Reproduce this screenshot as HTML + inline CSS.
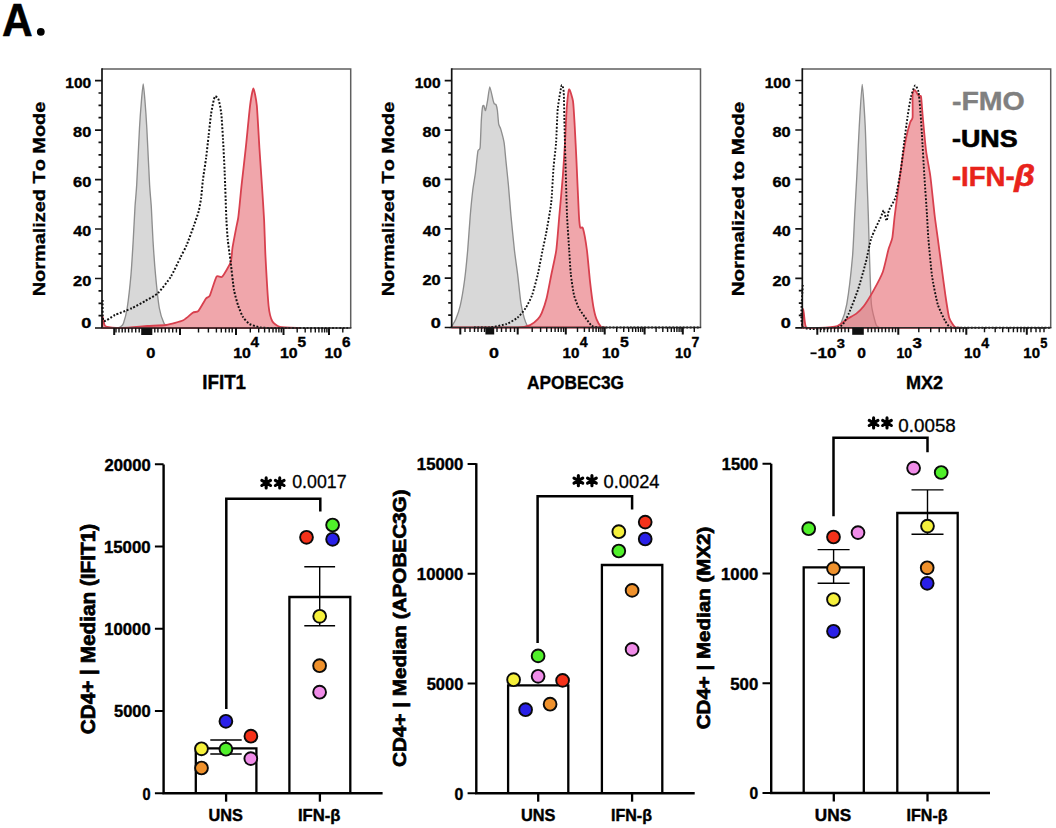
<!DOCTYPE html>
<html><head><meta charset="utf-8"><title>Figure A</title>
<style>
html,body{margin:0;padding:0;background:#fff;}
body{width:1056px;height:828px;overflow:hidden;}
svg{display:block;font-family:"Liberation Sans",sans-serif;font-kerning:none;}
text{font-kerning:none;}
</style></head><body>
<svg width="1056" height="828" viewBox="0 0 1056 828">
<rect width="1056" height="828" fill="#fff"/>
<text transform="translate(1.94,35.50) scale(0.9076,1)" font-size="46.80" font-weight="bold" font-style="normal" fill="#000" stroke="#000" stroke-width="0.6" stroke-linejoin="round">A</text>
<circle cx="40.8" cy="31.8" r="3.9"/>
<g>
<path d="M117.00,328.00 C117.35,327.88 119.86,327.26 120.50,326.80 C121.14,326.34 122.73,325.28 123.40,323.40 C124.07,321.52 126.44,312.89 127.20,308.00 C127.96,303.11 130.40,281.23 131.00,274.50 C131.60,267.77 132.80,247.46 133.20,240.70 C133.60,233.94 134.65,212.48 135.00,206.90 C135.35,201.32 136.25,192.79 136.70,184.90 C137.15,177.01 139.02,136.49 139.50,128.00 C139.98,119.51 141.13,104.42 141.50,100.00 C141.87,95.58 142.86,83.80 143.20,83.80 C143.54,83.80 144.54,95.58 144.90,100.00 C145.26,104.42 146.33,119.51 146.80,128.00 C147.27,136.49 149.15,177.01 149.60,184.90 C150.05,192.79 150.96,201.32 151.30,206.90 C151.64,212.48 152.58,233.94 153.00,240.70 C153.42,247.46 154.87,267.77 155.50,274.50 C156.13,281.23 158.45,303.11 159.30,308.00 C160.15,312.89 163.13,321.47 164.00,323.40 C164.87,325.33 167.20,326.84 168.00,327.30 C168.80,327.76 171.60,327.93 172.00,328.00 Z" fill="#d8d8d8" stroke="#8e8e8e" stroke-width="1.35"/>
<path d="M102.30,328.00 C102.33,326.90 102.43,317.50 102.60,317.00 C102.77,316.50 103.66,322.05 104.00,323.00 C104.34,323.95 104.13,326.02 106.00,326.50 C107.87,326.98 118.57,327.85 122.70,327.80 C126.83,327.75 142.94,326.28 147.30,326.00 C151.66,325.72 162.70,325.57 166.30,325.00 C169.90,324.43 180.65,321.53 183.30,320.30 C185.95,319.07 191.28,313.65 192.80,312.70 C194.32,311.75 197.18,312.22 198.50,310.80 C199.82,309.38 204.87,300.02 206.00,298.50 C207.13,296.98 208.75,297.78 209.80,295.60 C210.85,293.42 215.26,278.59 216.50,276.70 C217.74,274.81 220.78,278.16 222.20,276.70 C223.62,275.24 229.67,265.01 230.70,262.10 C231.73,259.19 231.96,250.98 232.50,247.60 C233.04,244.22 235.53,231.26 236.10,228.30 C236.67,225.34 237.84,220.41 238.20,218.00 C238.56,215.59 239.36,207.51 239.70,204.20 C240.04,200.89 240.99,190.55 241.60,184.90 C242.21,179.25 244.95,155.65 245.80,147.70 C246.65,139.75 249.34,111.32 250.10,105.40 C250.86,99.48 252.73,88.50 253.40,88.50 C254.07,88.50 256.20,99.48 256.80,105.40 C257.40,111.32 258.89,139.75 259.40,147.70 C259.91,155.65 261.43,177.67 261.90,184.90 C262.37,192.13 263.74,212.81 264.10,220.00 C264.46,227.19 265.05,248.20 265.50,256.80 C265.95,265.40 267.92,299.56 268.60,306.00 C269.28,312.44 271.17,319.11 272.30,321.20 C273.43,323.29 277.13,326.22 279.90,326.90 C282.67,327.58 297.99,327.89 300.00,328.00 Z" fill="#f0a6ab" stroke="#d8404e" stroke-width="1.8" stroke-linejoin="round"/>
<path d="M102.60,300.00 C102.69,302.10 102.26,319.50 103.50,321.00 C104.74,322.50 112.16,316.28 115.00,315.00 C117.84,313.72 128.88,309.60 131.90,308.20 C134.92,306.80 142.58,302.52 145.20,301.00 C147.82,299.48 155.53,295.44 158.10,293.00 C160.67,290.56 168.66,280.17 170.90,276.60 C173.14,273.03 178.93,260.44 180.50,257.30 C182.07,254.16 185.27,248.34 186.60,245.20 C187.93,242.06 192.60,229.28 193.80,225.90 C195.00,222.52 197.87,214.18 198.60,211.40 C199.33,208.62 200.67,201.24 201.10,198.10 C201.53,194.96 202.40,184.03 202.90,180.00 C203.40,175.97 205.53,162.22 206.10,157.80 C206.67,153.38 208.10,140.20 208.60,135.80 C209.10,131.40 210.59,117.35 211.10,113.80 C211.61,110.25 213.27,102.07 213.70,100.30 C214.13,98.53 214.89,96.10 215.40,96.10 C215.91,96.10 218.21,98.53 218.80,100.30 C219.39,102.07 220.88,109.91 221.30,113.80 C221.72,117.69 222.66,133.28 223.00,139.20 C223.34,145.12 224.36,164.92 224.70,173.00 C225.04,181.08 226.09,213.30 226.40,220.00 C226.71,226.70 227.37,235.75 227.80,240.00 C228.23,244.25 230.08,257.50 230.70,262.50 C231.32,267.50 233.24,285.65 234.00,290.00 C234.76,294.35 237.40,303.30 238.30,306.00 C239.20,308.70 241.87,315.20 243.00,317.00 C244.13,318.80 247.80,322.94 249.60,324.00 C251.40,325.06 257.96,327.20 261.00,327.60 C264.04,328.00 271.10,327.96 280.00,328.00 C288.90,328.04 343.00,328.00 350.00,328.00" fill="none" stroke="#111" stroke-width="2" stroke-dasharray="1.9 1.7"/>
<path d="M102.0,68.9 H350.7 V328.0" fill="none" stroke="#5f5f5f" stroke-width="1.5"/>
<path d="M102.0,68.2 V328.0" fill="none" stroke="#111" stroke-width="1.7"/>
<path d="M102.0,328.0 H351.4" fill="none" stroke="#2a2a2a" stroke-width="1.5"/>
<path d="M95.0,328.0 H102.0 M98.5,315.6 H102.0 M98.5,303.3 H102.0 M98.5,290.9 H102.0 M95.0,278.5 H102.0 M98.5,266.1 H102.0 M98.5,253.8 H102.0 M98.5,241.4 H102.0 M95.0,229.0 H102.0 M98.5,216.7 H102.0 M98.5,204.3 H102.0 M98.5,191.9 H102.0 M95.0,179.6 H102.0 M98.5,167.2 H102.0 M98.5,154.8 H102.0 M98.5,142.4 H102.0 M95.0,130.1 H102.0 M98.5,117.7 H102.0 M98.5,105.3 H102.0 M98.5,93.0 H102.0 M95.0,80.6 H102.0" stroke="#111" stroke-width="1.7"/>
<path d="M114.2,328.0 V335.0 M180.0,328.0 V335.0 M236.0,328.0 V335.0 M283.5,328.0 V335.0 M329.0,328.0 V335.0" stroke="#111" stroke-width="2"/>
<path d="M116.0,328.0 V332.5 M119.0,328.0 V332.5 M122.2,328.0 V332.5 M125.2,328.0 V332.5 M128.6,328.0 V332.5 M132.0,328.0 V332.5 M135.7,328.0 V332.5 M139.2,328.0 V332.5 M154.8,328.0 V332.5 M157.9,328.0 V332.5 M161.6,328.0 V332.5 M165.3,328.0 V332.5 M169.0,328.0 V332.5 M172.7,328.0 V332.5 M176.4,328.0 V332.5 M198.5,328.0 V332.5 M208.4,328.0 V332.5 M216.4,328.0 V332.5 M221.3,328.0 V332.5 M225.6,328.0 V332.5 M229.2,328.0 V332.5 M232.2,328.0 V332.5 M250.3,328.0 V332.5 M258.7,328.0 V332.5 M264.6,328.0 V332.5 M269.2,328.0 V332.5 M273.0,328.0 V332.5 M276.1,328.0 V332.5 M278.9,328.0 V332.5 M281.3,328.0 V332.5 M297.2,328.0 V332.5 M305.2,328.0 V332.5 M310.9,328.0 V332.5 M315.3,328.0 V332.5 M318.9,328.0 V332.5 M322.0,328.0 V332.5 M324.6,328.0 V332.5 M326.9,328.0 V332.5 M342.8,328.0 V332.5" stroke="#111" stroke-width="1.4"/>
<rect x="141.2" y="328.0" width="11.1" height="7" fill="#111"/>
</g>
<text stroke="#000" stroke-width="0.35" transform="translate(81.28,328.20) scale(1.2379,1)" font-size="14.61" font-weight="bold" font-style="normal" fill="#000" >0</text>
<text stroke="#000" stroke-width="0.35" transform="translate(73.03,285.72) scale(1.1226,1)" font-size="14.61" font-weight="bold" font-style="normal" fill="#000" >20</text>
<text stroke="#000" stroke-width="0.35" transform="translate(73.36,236.24) scale(1.1019,1)" font-size="14.61" font-weight="bold" font-style="normal" fill="#000" >40</text>
<text stroke="#000" stroke-width="0.35" transform="translate(73.00,186.76) scale(1.1247,1)" font-size="14.61" font-weight="bold" font-style="normal" fill="#000" >60</text>
<text stroke="#000" stroke-width="0.35" transform="translate(73.08,137.28) scale(1.1195,1)" font-size="14.61" font-weight="bold" font-style="normal" fill="#000" >80</text>
<text stroke="#000" stroke-width="0.35" transform="translate(65.32,87.80) scale(1.0633,1)" font-size="14.61" font-weight="bold" font-style="normal" fill="#000" >100</text>
<text stroke="#000" stroke-width="0.35" transform="translate(45.23,296.33) rotate(-90) scale(1.1699,1)" font-size="17.02" font-weight="bold" fill="#000" >Normalized To Mode</text>
<text stroke="#000" stroke-width="0.35" transform="translate(146.15,357.90) scale(1.1806,1)" font-size="13.89" font-weight="bold" font-style="normal" fill="#000" >0</text>
<text stroke="#000" stroke-width="0.35" transform="translate(233.20,357.90) scale(1.1423,1)" font-size="13.89" font-weight="bold" font-style="normal" fill="#000" >10</text>
<text stroke="#000" stroke-width="0.35" transform="translate(280.00,357.90) scale(1.1423,1)" font-size="13.89" font-weight="bold" font-style="normal" fill="#000" >10</text>
<text stroke="#000" stroke-width="0.35" transform="translate(324.40,357.90) scale(1.1423,1)" font-size="13.89" font-weight="bold" font-style="normal" fill="#000" >10</text>
<text stroke="#000" stroke-width="0.35" transform="translate(250.47,347.40) scale(1.0532,1)" font-size="14.54" font-weight="bold" font-style="normal" fill="#000" >4</text>
<text stroke="#000" stroke-width="0.35" transform="translate(297.52,347.40) scale(1.0647,1)" font-size="14.54" font-weight="bold" font-style="normal" fill="#000" >5</text>
<text stroke="#000" stroke-width="0.35" transform="translate(342.04,347.40) scale(1.0689,1)" font-size="14.32" font-weight="bold" font-style="normal" fill="#000" >6</text>
<text stroke="#000" stroke-width="0.35" transform="translate(202.24,389.00) scale(0.9728,1)" font-size="19.33" font-weight="bold" font-style="normal" fill="#000" >IFIT1</text>
<path d="M450.50,327.50 C450.68,327.30 451.76,326.34 452.30,325.50 C452.84,324.66 455.10,321.11 455.90,319.10 C456.70,317.09 459.43,309.31 460.30,305.40 C461.17,301.49 463.86,285.54 464.60,280.00 C465.34,274.46 467.13,256.50 467.70,250.00 C468.27,243.50 469.79,221.00 470.30,215.00 C470.81,209.00 472.29,194.19 472.80,190.00 C473.31,185.81 474.89,176.99 475.40,173.10 C475.91,169.21 477.43,153.64 477.90,151.10 C478.37,148.56 479.76,150.74 480.10,147.70 C480.44,144.66 481.06,124.76 481.30,120.70 C481.54,116.64 482.25,108.62 482.50,107.10 C482.75,105.58 483.50,105.16 483.80,105.50 C484.10,105.84 485.12,111.01 485.50,110.50 C485.88,109.99 487.17,102.77 487.60,100.40 C488.03,98.03 489.25,86.80 489.80,86.80 C490.35,86.80 492.65,98.70 493.10,100.40 C493.55,102.10 494.01,103.38 494.30,103.80 C494.59,104.22 495.69,103.93 496.00,104.60 C496.31,105.27 497.13,108.55 497.40,110.50 C497.67,112.45 498.37,122.24 498.70,124.10 C499.03,125.96 500.21,127.24 500.75,129.10 C501.29,130.96 503.60,139.65 504.10,142.70 C504.61,145.75 505.37,155.37 505.80,159.60 C506.23,163.83 507.89,179.46 508.40,185.00 C508.91,190.54 510.30,208.50 510.90,215.00 C511.50,221.50 513.73,244.08 514.40,250.00 C515.07,255.92 516.95,268.89 517.60,274.20 C518.25,279.51 520.25,298.76 520.90,303.10 C521.55,307.44 523.46,315.34 524.10,317.60 C524.74,319.86 526.76,324.71 527.30,325.70 C527.84,326.69 529.28,327.32 529.50,327.50 Z" fill="#d8d8d8" stroke="#8e8e8e" stroke-width="1.35"/>
<path d="M452.00,327.50 C458.56,327.50 509.75,327.76 517.60,327.50 C525.45,327.24 528.48,325.73 530.50,324.90 C532.52,324.07 536.67,320.41 537.80,319.20 C538.93,317.99 540.92,314.89 541.80,312.80 C542.68,310.71 545.64,302.16 546.60,298.30 C547.56,294.44 550.43,279.03 551.40,274.20 C552.37,269.37 555.50,255.92 556.30,250.00 C557.10,244.08 558.75,222.35 559.40,215.00 C560.05,207.65 562.24,183.74 562.80,176.50 C563.36,169.26 564.61,149.37 565.00,142.60 C565.39,135.83 566.29,114.12 566.70,108.80 C567.11,103.48 568.47,90.16 569.10,89.40 C569.73,88.64 572.44,97.57 573.00,101.20 C573.56,104.83 574.36,119.87 574.70,125.70 C575.04,131.53 575.98,150.57 576.40,159.50 C576.82,168.43 578.52,208.20 578.90,215.00 C579.28,221.80 579.79,226.16 580.20,227.50 C580.61,228.84 582.33,226.15 583.00,228.40 C583.67,230.65 586.19,244.62 586.90,250.00 C587.61,255.38 589.46,276.56 590.10,282.20 C590.74,287.84 592.66,302.70 593.30,306.40 C593.94,310.10 595.69,317.11 596.50,319.20 C597.31,321.29 600.57,326.47 601.40,327.30 C602.23,328.13 604.46,327.48 604.80,327.50 Z" fill="#f0a6ab" stroke="#d8404e" stroke-width="1.8" stroke-linejoin="round"/>
<path d="M474.00,327.50 C475.63,327.48 487.06,327.65 490.30,327.30 C493.54,326.95 503.67,324.97 506.40,324.00 C509.13,323.03 515.67,319.20 517.60,317.60 C519.53,316.00 524.25,310.25 525.70,308.00 C527.15,305.75 530.89,298.48 532.10,295.10 C533.31,291.72 536.75,278.71 537.80,274.20 C538.85,269.69 541.78,254.02 542.60,250.00 C543.42,245.98 545.14,238.70 546.00,234.00 C546.86,229.30 550.45,209.60 551.20,203.00 C551.95,196.40 553.01,174.04 553.50,168.00 C553.99,161.96 555.68,148.52 556.10,142.60 C556.52,136.68 557.20,114.51 557.75,108.80 C558.30,103.09 561.00,87.19 561.60,85.50 C562.20,83.81 563.41,87.88 563.70,91.90 C563.99,95.92 564.33,118.94 564.50,125.70 C564.67,132.46 565.15,150.57 565.40,159.50 C565.65,168.43 566.62,205.95 567.00,215.00 C567.38,224.05 568.82,244.08 569.20,250.00 C569.58,255.92 570.32,269.69 570.80,274.20 C571.28,278.71 573.20,291.72 574.00,295.10 C574.80,298.48 577.67,305.75 578.80,308.00 C579.93,310.25 584.01,315.83 585.30,317.60 C586.59,319.37 590.42,324.71 591.70,325.70 C592.98,326.69 596.27,327.32 598.10,327.50 C599.93,327.68 599.81,327.50 610.00,327.50 C620.19,327.50 691.00,327.50 700.00,327.50" fill="none" stroke="#111" stroke-width="1.9" stroke-dasharray="1.8 1.7"/>
<path d="M451.7,68.9 H700.5 V327.5" fill="none" stroke="#5f5f5f" stroke-width="1.5"/>
<path d="M451.7,68.2 V327.5" fill="none" stroke="#111" stroke-width="1.7"/>
<path d="M451.7,327.5 H701.2" fill="none" stroke="#2a2a2a" stroke-width="1.5"/>
<path d="M444.7,327.5 H451.7 M448.2,315.2 H451.7 M448.2,302.8 H451.7 M448.2,290.5 H451.7 M444.7,278.1 H451.7 M448.2,265.8 H451.7 M448.2,253.5 H451.7 M448.2,241.1 H451.7 M444.7,228.8 H451.7 M448.2,216.4 H451.7 M448.2,204.1 H451.7 M448.2,191.8 H451.7 M444.7,179.4 H451.7 M448.2,167.1 H451.7 M448.2,154.7 H451.7 M448.2,142.4 H451.7 M444.7,130.1 H451.7 M448.2,117.7 H451.7 M448.2,105.4 H451.7 M448.2,93.0 H451.7 M444.7,80.7 H451.7" stroke="#111" stroke-width="1.7"/>
<path d="M460.3,327.5 V334.5 M517.7,327.5 V334.5 M565.8,327.5 V334.5 M604.7,327.5 V334.5 M644.6,327.5 V334.5 M682.8,327.5 V334.5" stroke="#111" stroke-width="2"/>
<path d="M465.0,327.5 V332.0 M470.0,327.5 V332.0 M474.5,327.5 V332.0 M478.0,327.5 V332.0 M481.5,327.5 V332.0 M484.5,327.5 V332.0 M497.0,327.5 V332.0 M501.5,327.5 V332.0 M506.0,327.5 V332.0 M510.5,327.5 V332.0 M514.5,327.5 V332.0 M532.2,327.5 V332.0 M540.6,327.5 V332.0 M546.7,327.5 V332.0 M551.3,327.5 V332.0 M555.1,327.5 V332.0 M558.3,327.5 V332.0 M561.1,327.5 V332.0 M563.6,327.5 V332.0 M577.5,327.5 V332.0 M584.4,327.5 V332.0 M589.2,327.5 V332.0 M593.0,327.5 V332.0 M596.1,327.5 V332.0 M598.7,327.5 V332.0 M600.9,327.5 V332.0 M602.9,327.5 V332.0 M616.7,327.5 V332.0 M623.7,327.5 V332.0 M628.7,327.5 V332.0 M632.6,327.5 V332.0 M635.7,327.5 V332.0 M638.4,327.5 V332.0 M640.7,327.5 V332.0 M642.8,327.5 V332.0 M656.1,327.5 V332.0 M662.8,327.5 V332.0 M667.6,327.5 V332.0 M671.3,327.5 V332.0 M674.3,327.5 V332.0 M676.9,327.5 V332.0 M679.1,327.5 V332.0 M681.1,327.5 V332.0 M694.3,327.5 V332.0" stroke="#111" stroke-width="1.4"/>
<rect x="485.4" y="327.5" width="8.8" height="7" fill="#111"/>
<text stroke="#000" stroke-width="0.35" transform="translate(430.68,327.70) scale(1.2379,1)" font-size="14.61" font-weight="bold" font-style="normal" fill="#000" >0</text>
<text stroke="#000" stroke-width="0.35" transform="translate(422.43,285.34) scale(1.1226,1)" font-size="14.61" font-weight="bold" font-style="normal" fill="#000" >20</text>
<text stroke="#000" stroke-width="0.35" transform="translate(422.76,235.98) scale(1.1019,1)" font-size="14.61" font-weight="bold" font-style="normal" fill="#000" >40</text>
<text stroke="#000" stroke-width="0.35" transform="translate(422.40,186.62) scale(1.1247,1)" font-size="14.61" font-weight="bold" font-style="normal" fill="#000" >60</text>
<text stroke="#000" stroke-width="0.35" transform="translate(422.48,137.26) scale(1.1195,1)" font-size="14.61" font-weight="bold" font-style="normal" fill="#000" >80</text>
<text stroke="#000" stroke-width="0.35" transform="translate(414.72,87.90) scale(1.0633,1)" font-size="14.61" font-weight="bold" font-style="normal" fill="#000" >100</text>
<text stroke="#000" stroke-width="0.35" transform="translate(394.33,296.33) rotate(-90) scale(1.1699,1)" font-size="17.02" font-weight="bold" fill="#000" >Normalized To Mode</text>
<text stroke="#000" stroke-width="0.35" transform="translate(488.99,357.80) scale(1.2999,1)" font-size="13.75" font-weight="bold" font-style="normal" fill="#000" >0</text>
<text stroke="#000" stroke-width="0.35" transform="translate(562.54,357.80) scale(1.1037,1)" font-size="13.75" font-weight="bold" font-style="normal" fill="#000" >10</text>
<text stroke="#000" stroke-width="0.35" transform="translate(602.00,357.80) scale(1.1542,1)" font-size="13.75" font-weight="bold" font-style="normal" fill="#000" >10</text>
<text stroke="#000" stroke-width="0.35" transform="translate(675.08,357.80) scale(1.0604,1)" font-size="13.75" font-weight="bold" font-style="normal" fill="#000" >10</text>
<text stroke="#000" stroke-width="0.35" transform="translate(579.79,347.40) scale(0.9762,1)" font-size="14.54" font-weight="bold" font-style="normal" fill="#000" >4</text>
<text stroke="#000" stroke-width="0.35" transform="translate(619.91,347.40) scale(1.0924,1)" font-size="14.54" font-weight="bold" font-style="normal" fill="#000" >5</text>
<text stroke="#000" stroke-width="0.35" transform="translate(691.40,347.40) scale(0.9677,1)" font-size="14.54" font-weight="bold" font-style="normal" fill="#000" >7</text>
<text stroke="#000" stroke-width="0.35" transform="translate(527.07,389.00) scale(0.9006,1)" font-size="19.19" font-weight="bold" font-style="normal" fill="#000" >APOBEC3G</text>
<path d="M836.00,327.80 C836.51,327.32 840.02,325.36 841.10,323.00 C842.18,320.64 845.66,310.82 846.80,304.20 C847.94,297.58 851.71,265.72 852.50,256.80 C853.29,247.88 854.27,223.03 854.70,215.00 C855.13,206.97 856.34,185.42 856.80,176.50 C857.26,167.58 858.76,135.02 859.30,125.80 C859.84,116.58 861.61,84.30 862.20,84.30 C862.79,84.30 864.73,116.58 865.20,125.80 C865.67,135.02 866.59,167.58 866.90,176.50 C867.21,185.42 868.04,206.97 868.30,215.00 C868.56,223.03 869.19,247.88 869.50,256.80 C869.81,265.72 870.73,297.38 871.40,304.20 C872.07,311.02 875.34,322.64 876.20,325.00 C877.06,327.36 879.62,327.52 880.00,327.80 Z" fill="#d8d8d8" stroke="#8e8e8e" stroke-width="1.35"/>
<path d="M802.30,327.80 C802.36,325.97 802.75,310.98 802.90,309.50 C803.05,308.02 803.47,311.20 803.80,313.00 C804.13,314.80 804.74,326.02 806.20,327.50 C807.66,328.98 815.29,327.95 818.40,327.80 C821.51,327.65 834.46,326.85 837.30,326.00 C840.14,325.15 844.90,320.54 846.80,319.30 C848.70,318.06 854.59,314.93 856.30,313.60 C858.01,312.27 862.20,308.27 863.90,306.00 C865.60,303.73 871.41,294.30 873.30,290.90 C875.19,287.50 881.28,276.17 882.80,272.00 C884.32,267.83 887.55,252.61 888.50,249.20 C889.45,245.79 891.67,241.32 892.30,237.90 C892.93,234.48 893.95,221.81 894.80,215.00 C895.65,208.19 899.70,177.37 900.80,169.80 C901.90,162.23 904.87,144.04 905.80,139.30 C906.73,134.56 909.42,124.60 910.10,122.40 C910.78,120.20 912.35,120.18 912.60,117.30 C912.85,114.42 912.35,96.31 912.60,93.60 C912.85,90.89 914.59,90.11 915.10,90.20 C915.61,90.29 917.27,93.90 917.70,94.50 C918.13,95.10 919.06,95.95 919.40,96.20 C919.74,96.45 920.76,94.89 921.10,97.00 C921.44,99.11 922.30,111.89 922.80,117.30 C923.30,122.71 925.34,145.18 926.10,151.10 C926.86,157.02 929.55,170.11 930.40,176.50 C931.25,182.89 933.87,208.86 934.60,215.00 C935.33,221.14 937.01,232.77 937.70,237.90 C938.39,243.03 940.74,260.62 941.50,266.30 C942.26,271.98 944.54,289.59 945.30,294.70 C946.06,299.81 948.15,314.18 949.10,317.40 C950.05,320.62 953.66,325.86 954.80,326.90 C955.94,327.94 959.93,327.71 960.50,327.80 Z" fill="#e76c74" fill-opacity="0.615" stroke="#d8404e" stroke-width="1.8" stroke-linejoin="round"/>
<path d="M802.80,285.00 C802.82,289.20 799.36,322.81 803.00,327.00 C806.64,331.19 834.63,328.24 839.20,326.90 C843.77,325.56 846.80,317.39 848.70,313.60 C850.60,309.81 856.50,294.11 858.20,289.00 C859.91,283.89 864.43,267.61 865.75,262.50 C867.07,257.39 869.88,242.45 871.40,237.90 C872.91,233.35 879.66,219.75 880.90,217.00 C882.13,214.25 883.18,210.02 883.75,210.40 C884.32,210.78 886.09,220.80 886.60,220.80 C887.12,220.80 887.99,212.80 888.90,210.40 C889.81,208.00 894.51,200.86 895.70,196.80 C896.89,192.74 899.96,175.21 900.80,169.80 C901.64,164.39 903.43,147.95 904.10,142.70 C904.77,137.45 906.82,121.87 907.50,117.30 C908.18,112.73 910.14,100.18 910.90,97.00 C911.66,93.82 914.34,86.01 915.10,85.50 C915.86,84.99 917.99,89.57 918.50,91.90 C919.01,94.23 919.86,104.57 920.20,108.80 C920.54,113.03 921.48,127.43 921.90,134.20 C922.32,140.97 923.89,168.42 924.40,176.50 C924.91,184.58 926.61,208.86 927.00,215.00 C927.39,221.14 927.80,231.82 928.30,237.90 C928.80,243.98 931.06,269.17 932.00,275.80 C932.94,282.43 936.37,299.66 937.70,304.20 C939.03,308.74 943.97,318.89 945.30,321.20 C946.63,323.51 948.53,326.64 951.00,327.30 C953.47,327.96 960.10,327.75 970.00,327.80 C979.90,327.85 1042.00,327.80 1050.00,327.80" fill="none" stroke="#111" stroke-width="1.9" stroke-dasharray="1.8 1.7"/>
<path d="M802.3,68.9 H1050.7 V327.8" fill="none" stroke="#5f5f5f" stroke-width="1.5"/>
<path d="M802.3,68.2 V327.8" fill="none" stroke="#111" stroke-width="1.7"/>
<path d="M802.3,327.8 H1051.4" fill="none" stroke="#2a2a2a" stroke-width="1.5"/>
<path d="M795.3,327.8 H802.3 M798.8,315.4 H802.3 M798.8,303.1 H802.3 M798.8,290.7 H802.3 M795.3,278.3 H802.3 M798.8,266.0 H802.3 M798.8,253.6 H802.3 M798.8,241.2 H802.3 M795.3,228.9 H802.3 M798.8,216.5 H802.3 M798.8,204.1 H802.3 M798.8,191.8 H802.3 M795.3,179.4 H802.3 M798.8,167.1 H802.3 M798.8,154.7 H802.3 M798.8,142.3 H802.3 M795.3,130.0 H802.3 M798.8,117.6 H802.3 M798.8,105.2 H802.3 M798.8,92.9 H802.3 M795.3,80.5 H802.3" stroke="#111" stroke-width="1.7"/>
<path d="M817.3,327.8 V334.8 M898.3,327.8 V334.8 M966.3,327.8 V334.8 M1026.8,327.8 V334.8" stroke="#111" stroke-width="2"/>
<path d="M820.5,327.8 V332.3 M824.0,327.8 V332.3 M827.5,327.8 V332.3 M831.0,327.8 V332.3 M834.5,327.8 V332.3 M838.0,327.8 V332.3 M841.5,327.8 V332.3 M845.0,327.8 V332.3 M848.5,327.8 V332.3 M868.0,327.8 V332.3 M871.5,327.8 V332.3 M875.0,327.8 V332.3 M878.5,327.8 V332.3 M882.0,327.8 V332.3 M885.5,327.8 V332.3 M889.0,327.8 V332.3 M892.5,327.8 V332.3 M895.5,327.8 V332.3 M918.8,327.8 V332.3 M930.7,327.8 V332.3 M939.2,327.8 V332.3 M945.8,327.8 V332.3 M951.2,327.8 V332.3 M955.8,327.8 V332.3 M959.7,327.8 V332.3 M963.2,327.8 V332.3 M984.5,327.8 V332.3 M995.2,327.8 V332.3 M1002.7,327.8 V332.3 M1008.6,327.8 V332.3 M1013.4,327.8 V332.3 M1017.4,327.8 V332.3 M1020.9,327.8 V332.3 M1024.0,327.8 V332.3 M1031.0,327.8 V332.3 M1036.0,327.8 V332.3 M1040.0,327.8 V332.3 M1044.0,327.8 V332.3" stroke="#111" stroke-width="1.4"/>
<rect x="852.2" y="327.8" width="11.6" height="7" fill="#111"/>
<text stroke="#000" stroke-width="0.35" transform="translate(780.68,328.00) scale(1.2379,1)" font-size="14.61" font-weight="bold" font-style="normal" fill="#000" >0</text>
<text stroke="#000" stroke-width="0.35" transform="translate(772.43,285.54) scale(1.1226,1)" font-size="14.61" font-weight="bold" font-style="normal" fill="#000" >20</text>
<text stroke="#000" stroke-width="0.35" transform="translate(772.76,236.08) scale(1.1019,1)" font-size="14.61" font-weight="bold" font-style="normal" fill="#000" >40</text>
<text stroke="#000" stroke-width="0.35" transform="translate(772.40,186.62) scale(1.1247,1)" font-size="14.61" font-weight="bold" font-style="normal" fill="#000" >60</text>
<text stroke="#000" stroke-width="0.35" transform="translate(772.48,137.16) scale(1.1195,1)" font-size="14.61" font-weight="bold" font-style="normal" fill="#000" >80</text>
<text stroke="#000" stroke-width="0.35" transform="translate(764.72,87.70) scale(1.0633,1)" font-size="14.61" font-weight="bold" font-style="normal" fill="#000" >100</text>
<text stroke="#000" stroke-width="0.35" transform="translate(744.33,296.37) rotate(-90) scale(1.2045,1)" font-size="17.02" font-weight="bold" fill="#000" >Normalized to Mode</text>
<rect x="810.5" y="352.4" width="6.1" height="1.8"/>
<text stroke="#000" stroke-width="0.35" transform="translate(817.43,357.70) scale(1.2154,1)" font-size="14.04" font-weight="bold" font-style="normal" fill="#000" >10</text>
<text stroke="#000" stroke-width="0.35" transform="translate(836.66,348.00) scale(1.0909,1)" font-size="13.46" font-weight="bold" font-style="normal" fill="#000" >3</text>
<text stroke="#000" stroke-width="0.35" transform="translate(857.28,357.70) scale(1.1086,1)" font-size="14.04" font-weight="bold" font-style="normal" fill="#000" >0</text>
<text stroke="#000" stroke-width="0.35" transform="translate(896.41,357.70) scale(1.0034,1)" font-size="14.04" font-weight="bold" font-style="normal" fill="#000" >10</text>
<text stroke="#000" stroke-width="0.35" transform="translate(964.05,357.70) scale(1.0741,1)" font-size="14.04" font-weight="bold" font-style="normal" fill="#000" >10</text>
<text stroke="#000" stroke-width="0.35" transform="translate(1023.36,357.70) scale(1.0670,1)" font-size="14.04" font-weight="bold" font-style="normal" fill="#000" >10</text>
<text stroke="#000" stroke-width="0.35" transform="translate(912.51,347.70) scale(1.2040,1)" font-size="14.04" font-weight="bold" font-style="normal" fill="#000" >3</text>
<text stroke="#000" stroke-width="0.35" transform="translate(981.19,347.70) scale(0.9961,1)" font-size="14.24" font-weight="bold" font-style="normal" fill="#000" >4</text>
<text stroke="#000" stroke-width="0.35" transform="translate(1040.20,347.70) scale(0.9030,1)" font-size="14.24" font-weight="bold" font-style="normal" fill="#000" >5</text>
<text stroke="#000" stroke-width="0.35" transform="translate(905.89,389.00) scale(0.9580,1)" font-size="18.90" font-weight="bold" font-style="normal" fill="#000" >MX2</text>
<text transform="translate(951.89,110.10) scale(1.0772,1)" font-size="26.50" font-weight="bold" font-style="normal" fill="#808080" stroke="#808080" stroke-width="0.4">-FMO</text>
<text transform="translate(951.95,147.30) scale(1.1374,1)" font-size="23.63" font-weight="bold" font-style="normal" fill="#000" stroke="#000" stroke-width="0.6">-UNS</text>
<text transform="translate(951.92,185.80) scale(1.0037,1)" font-size="27.47" font-weight="bold" font-style="normal" fill="#e8231b" stroke="#e8231b" stroke-width="0.5">-IFN-</text>
<text transform="translate(1014.31,185.80) scale(1.1502,1)" font-size="28.84" font-weight="bold" font-style="italic" fill="#e8231b" stroke="#e8231b" stroke-width="0.6">β</text>
<path d="M163.6,464.4 V793.2 H382.6" fill="none" stroke="#000" stroke-width="2.4"/>
<path d="M154.9,793.2 H163.6 M154.9,711.0 H163.6 M154.9,628.7 H163.6 M154.9,546.5 H163.6 M154.9,464.2 H163.6" stroke="#000" stroke-width="2"/>
<text stroke="#000" stroke-width="0.4" transform="translate(142.53,799.60) scale(0.8965,1)" font-size="16.18" font-weight="bold" font-style="normal" fill="#000" >0</text>
<text stroke="#000" stroke-width="0.4" transform="translate(113.99,717.35) scale(1.0189,1)" font-size="16.18" font-weight="bold" font-style="normal" fill="#000" >5000</text>
<text stroke="#000" stroke-width="0.4" transform="translate(104.35,635.10) scale(1.0296,1)" font-size="16.18" font-weight="bold" font-style="normal" fill="#000" >10000</text>
<text stroke="#000" stroke-width="0.4" transform="translate(103.94,552.85) scale(1.0388,1)" font-size="16.18" font-weight="bold" font-style="normal" fill="#000" >15000</text>
<text stroke="#000" stroke-width="0.4" transform="translate(104.42,470.60) scale(1.0279,1)" font-size="16.18" font-weight="bold" font-style="normal" fill="#000" >20000</text>
<path d="M195.8,793.2 V748.4 H256.4 V793.2" fill="none" stroke="#000" stroke-width="2.3"/>
<path d="M226.1,793.2 V801.7" stroke="#000" stroke-width="2.3"/>
<path d="M289.4,793.2 V597.0 H350.3 V793.2" fill="none" stroke="#000" stroke-width="2.3"/>
<path d="M319.9,793.2 V801.7" stroke="#000" stroke-width="2.3"/>
<path d="M210.3,740.0 H241.7 M226.0,740.0 V754.0 M210.3,754.0 H241.7" fill="none" stroke="#000" stroke-width="1.4"/>
<path d="M304.3,566.7 H335.1 M319.7,566.7 V625.8 M304.3,625.8 H335.1" fill="none" stroke="#000" stroke-width="1.4"/>
<circle cx="225.9" cy="721.3" r="6.4" fill="#2a20e8" stroke="#0a0a0a" stroke-width="1.9"/>
<circle cx="250.9" cy="736.2" r="6.4" fill="#f5321a" stroke="#0a0a0a" stroke-width="1.9"/>
<circle cx="201.5" cy="748.8" r="6.4" fill="#f5f03c" stroke="#0a0a0a" stroke-width="1.9"/>
<circle cx="225.9" cy="749.2" r="6.4" fill="#50f02a" stroke="#0a0a0a" stroke-width="1.9"/>
<circle cx="250.8" cy="758.6" r="6.4" fill="#f08ce8" stroke="#0a0a0a" stroke-width="1.9"/>
<circle cx="201.5" cy="768.0" r="6.4" fill="#ef912c" stroke="#0a0a0a" stroke-width="1.9"/>
<circle cx="306.5" cy="537.3" r="6.4" fill="#f5321a" stroke="#0a0a0a" stroke-width="1.9"/>
<circle cx="332.6" cy="525.0" r="6.4" fill="#50f02a" stroke="#0a0a0a" stroke-width="1.9"/>
<circle cx="332.6" cy="539.3" r="6.4" fill="#2a20e8" stroke="#0a0a0a" stroke-width="1.9"/>
<circle cx="319.7" cy="616.3" r="6.4" fill="#f5f03c" stroke="#0a0a0a" stroke-width="1.9"/>
<circle cx="319.6" cy="665.7" r="6.4" fill="#ef912c" stroke="#0a0a0a" stroke-width="1.9"/>
<circle cx="319.6" cy="692.2" r="6.4" fill="#f08ce8" stroke="#0a0a0a" stroke-width="1.9"/>
<path d="M226.3,709 V498.7 H320.3 V511.6" fill="none" stroke="#000" stroke-width="2.5"/>
<path d="M266.17,477.90 V488.00 M261.80,480.43 L270.54,485.48 M261.80,485.48 L270.54,480.43" stroke="#000" stroke-width="3.1" stroke-linecap="round"/>
<path d="M279.73,477.90 V488.00 M275.36,480.43 L284.10,485.48 M275.36,485.48 L284.10,480.43" stroke="#000" stroke-width="3.1" stroke-linecap="round"/>
<text stroke="#000" stroke-width="0.3" transform="translate(292.21,487.80) scale(0.9551,1)" font-size="18.62" font-weight="normal" font-style="normal" fill="#000" >0.0017</text>
<text stroke="#000" stroke-width="0.7" transform="translate(94.84,734.30) rotate(-90) scale(1.0339,1)" font-size="20.07" font-weight="bold" fill="#000" >CD4+ | Median (IFIT1)</text>
<text stroke="#000" stroke-width="0.4" transform="translate(208.52,821.00) scale(0.9897,1)" font-size="16.47" font-weight="bold" font-style="normal" fill="#000" >UNS</text>
<text stroke="#000" stroke-width="0.4" transform="translate(297.89,821.00) scale(1.0478,1)" font-size="15.87" font-weight="bold" font-style="normal" fill="#000" >IFN-β</text>
<path d="M476.3,463.3 V793.2 H694.7" fill="none" stroke="#000" stroke-width="2.4"/>
<path d="M467.6,793.2 H476.3 M467.6,683.4 H476.3 M467.6,573.7 H476.3 M467.6,463.9 H476.3" stroke="#000" stroke-width="2"/>
<text stroke="#000" stroke-width="0.4" transform="translate(454.58,799.60) scale(0.9745,1)" font-size="16.18" font-weight="bold" font-style="normal" fill="#000" >0</text>
<text stroke="#000" stroke-width="0.4" transform="translate(426.69,689.83) scale(1.0189,1)" font-size="16.18" font-weight="bold" font-style="normal" fill="#000" >5000</text>
<text stroke="#000" stroke-width="0.4" transform="translate(416.85,580.06) scale(1.0342,1)" font-size="16.18" font-weight="bold" font-style="normal" fill="#000" >10000</text>
<text stroke="#000" stroke-width="0.4" transform="translate(416.85,470.29) scale(1.0342,1)" font-size="16.18" font-weight="bold" font-style="normal" fill="#000" >15000</text>
<path d="M508.1,793.2 V685.4 H568.3 V793.2" fill="none" stroke="#000" stroke-width="2.3"/>
<path d="M538.2,793.2 V801.7" stroke="#000" stroke-width="2.3"/>
<path d="M601.9,793.2 V565.0 H662.3 V793.2" fill="none" stroke="#000" stroke-width="2.3"/>
<path d="M632.1,793.2 V801.7" stroke="#000" stroke-width="2.3"/>
<circle cx="538.1" cy="655.9" r="6.4" fill="#50f02a" stroke="#0a0a0a" stroke-width="1.9"/>
<circle cx="513.6" cy="679.7" r="6.4" fill="#f5f03c" stroke="#0a0a0a" stroke-width="1.9"/>
<circle cx="538.1" cy="676.3" r="6.4" fill="#f08ce8" stroke="#0a0a0a" stroke-width="1.9"/>
<circle cx="562.6" cy="680.4" r="6.4" fill="#f5321a" stroke="#0a0a0a" stroke-width="1.9"/>
<circle cx="525.6" cy="709.7" r="6.4" fill="#2a20e8" stroke="#0a0a0a" stroke-width="1.9"/>
<circle cx="550.1" cy="704.2" r="6.4" fill="#ef912c" stroke="#0a0a0a" stroke-width="1.9"/>
<circle cx="618.8" cy="531.7" r="6.4" fill="#f5f03c" stroke="#0a0a0a" stroke-width="1.9"/>
<circle cx="645.2" cy="522.1" r="6.4" fill="#f5321a" stroke="#0a0a0a" stroke-width="1.9"/>
<circle cx="618.8" cy="551.0" r="6.4" fill="#50f02a" stroke="#0a0a0a" stroke-width="1.9"/>
<circle cx="645.2" cy="539.0" r="6.4" fill="#2a20e8" stroke="#0a0a0a" stroke-width="1.9"/>
<circle cx="632.1" cy="590.4" r="6.4" fill="#ef912c" stroke="#0a0a0a" stroke-width="1.9"/>
<circle cx="632.1" cy="649.4" r="6.4" fill="#f08ce8" stroke="#0a0a0a" stroke-width="1.9"/>
<path d="M537.6,643 V496.2 H632.1 V509.5" fill="none" stroke="#000" stroke-width="2.5"/>
<path d="M578.37,475.55 V485.65 M574.00,478.08 L582.74,483.12 M574.00,483.12 L582.74,478.08" stroke="#000" stroke-width="3.1" stroke-linecap="round"/>
<path d="M591.93,475.55 V485.65 M587.56,478.08 L596.30,483.12 M587.56,483.12 L596.30,478.08" stroke="#000" stroke-width="3.1" stroke-linecap="round"/>
<text stroke="#000" stroke-width="0.3" transform="translate(603.59,487.80) scale(0.9604,1)" font-size="19.05" font-weight="normal" font-style="normal" fill="#000" >0.0024</text>
<text stroke="#000" stroke-width="0.7" transform="translate(405.90,767.05) rotate(-90) scale(1.0947,1)" font-size="18.91" font-weight="bold" fill="#000" >CD4+ | Median (APOBEC3G)</text>
<text stroke="#000" stroke-width="0.4" transform="translate(521.02,821.00) scale(0.9927,1)" font-size="16.47" font-weight="bold" font-style="normal" fill="#000" >UNS</text>
<text stroke="#000" stroke-width="0.4" transform="translate(611.03,821.00) scale(1.0092,1)" font-size="15.87" font-weight="bold" font-style="normal" fill="#000" >IFN-β</text>
<path d="M771.2,463.8 V793.0 H990.0" fill="none" stroke="#000" stroke-width="2.4"/>
<path d="M762.5,793.0 H771.2 M762.5,683.3 H771.2 M762.5,573.5 H771.2 M762.5,463.8 H771.2" stroke="#000" stroke-width="2"/>
<text stroke="#000" stroke-width="0.4" transform="translate(749.58,799.40) scale(0.9615,1)" font-size="16.18" font-weight="bold" font-style="normal" fill="#000" >0</text>
<text stroke="#000" stroke-width="0.4" transform="translate(730.28,689.67) scale(1.0372,1)" font-size="16.18" font-weight="bold" font-style="normal" fill="#000" >500</text>
<text stroke="#000" stroke-width="0.4" transform="translate(721.05,579.94) scale(1.0344,1)" font-size="16.18" font-weight="bold" font-style="normal" fill="#000" >1000</text>
<text stroke="#000" stroke-width="0.4" transform="translate(721.77,470.21) scale(1.0140,1)" font-size="16.18" font-weight="bold" font-style="normal" fill="#000" >1500</text>
<path d="M803.7,793.0 V567.3 H863.8 V793.0" fill="none" stroke="#000" stroke-width="2.3"/>
<path d="M833.8,793.0 V801.5" stroke="#000" stroke-width="2.3"/>
<path d="M897.3,793.0 V513.0 H957.7 V793.0" fill="none" stroke="#000" stroke-width="2.3"/>
<path d="M927.5,793.0 V801.5" stroke="#000" stroke-width="2.3"/>
<path d="M817.6,549.6 H849.6 M833.6,549.6 V583.3 M817.6,583.3 H849.6" fill="none" stroke="#000" stroke-width="1.4"/>
<path d="M911.5,489.9 H943.5 M927.5,489.9 V534.2 M911.5,534.2 H943.5" fill="none" stroke="#000" stroke-width="1.4"/>
<circle cx="808.7" cy="528.7" r="6.4" fill="#50f02a" stroke="#0a0a0a" stroke-width="1.9"/>
<circle cx="833.5" cy="537.0" r="6.4" fill="#f5321a" stroke="#0a0a0a" stroke-width="1.9"/>
<circle cx="858.0" cy="532.6" r="6.4" fill="#f08ce8" stroke="#0a0a0a" stroke-width="1.9"/>
<circle cx="833.5" cy="568.6" r="6.4" fill="#ef912c" stroke="#0a0a0a" stroke-width="1.9"/>
<circle cx="833.5" cy="599.5" r="6.4" fill="#f5f03c" stroke="#0a0a0a" stroke-width="1.9"/>
<circle cx="833.5" cy="631.3" r="6.4" fill="#2a20e8" stroke="#0a0a0a" stroke-width="1.9"/>
<circle cx="913.6" cy="468.1" r="6.4" fill="#f08ce8" stroke="#0a0a0a" stroke-width="1.9"/>
<circle cx="941.2" cy="472.5" r="6.4" fill="#50f02a" stroke="#0a0a0a" stroke-width="1.9"/>
<circle cx="927.5" cy="526.1" r="6.4" fill="#f5f03c" stroke="#0a0a0a" stroke-width="1.9"/>
<circle cx="927.2" cy="567.8" r="6.4" fill="#ef912c" stroke="#0a0a0a" stroke-width="1.9"/>
<circle cx="927.2" cy="583.3" r="6.4" fill="#2a20e8" stroke="#0a0a0a" stroke-width="1.9"/>
<path d="M833.5,516.3 V437.8 H927.5 V452.2" fill="none" stroke="#000" stroke-width="2.5"/>
<path d="M873.60,417.90 V428.00 M869.23,420.43 L877.97,425.48 M869.23,425.48 L877.97,420.43" stroke="#000" stroke-width="3.1" stroke-linecap="round"/>
<path d="M887.00,417.90 V428.00 M882.63,420.43 L891.37,425.48 M882.63,425.48 L891.37,420.43" stroke="#000" stroke-width="3.1" stroke-linecap="round"/>
<text stroke="#000" stroke-width="0.3" transform="translate(898.37,431.90) scale(1.0012,1)" font-size="18.76" font-weight="normal" font-style="normal" fill="#000" >0.0058</text>
<text stroke="#000" stroke-width="0.7" transform="translate(709.98,729.24) rotate(-90) scale(1.0812,1)" font-size="19.01" font-weight="bold" fill="#000" >CD4+ | Median (MX2)</text>
<text stroke="#000" stroke-width="0.4" transform="translate(814.87,821.00) scale(1.0440,1)" font-size="16.47" font-weight="bold" font-style="normal" fill="#000" >UNS</text>
<text stroke="#000" stroke-width="0.4" transform="translate(906.53,821.00) scale(1.0118,1)" font-size="15.87" font-weight="bold" font-style="normal" fill="#000" >IFN-β</text>
</svg>
</body></html>
